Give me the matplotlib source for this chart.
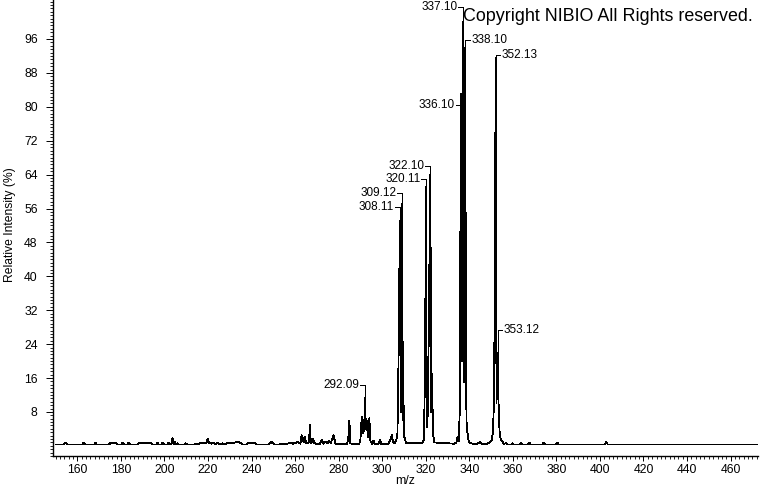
import numpy as np
import matplotlib.pyplot as plt
from matplotlib.ticker import MultipleLocator, FixedLocator


# profile trace (m/z, relative intensity %)
mz = [150.0, 153.8, 154.5, 155.2, 162.2, 162.8, 163.5, 167.8, 168.3, 168.9,
      174.5, 175.2, 177.6, 178.2, 180.2, 180.8, 181.4, 183.0, 183.6, 184.2,
      187.6, 188.3, 193.6, 194.3, 196.2, 196.8, 197.4, 198.6, 199.2, 199.8,
      201.4, 202.0, 202.6, 203.2, 203.7, 204.2, 204.7, 205.2, 206.0, 206.6,
      209.0, 209.6, 210.4, 213.0, 215.4, 217.6, 219.2, 219.8, 220.4, 221.6,
      222.4, 223.4, 224.4, 225.4, 226.6, 227.6, 229.2, 230.4, 232.6, 233.8,
      235.0, 236.0, 237.6, 238.4, 241.6, 242.4, 247.8, 249.2, 250.4, 252.6,
      253.8, 255.4, 257.0, 258.4, 259.0,
      261.4, 262.4, 263.0, 263.5, 263.8, 264.2, 264.6, 265.0, 265.8, 266.4,
      266.8, 267.2, 267.8, 268.3, 268.8, 270.0, 271.4, 272.2, 273.0, 274.0,
      274.8, 275.6, 276.4, 277.6, 278.6, 280.2, 283.8, 284.4, 284.9, 285.4,
      286.4, 289.4, 290.0, 290.6, 291.0, 291.3, 291.7, 292.09, 292.5, 292.9,
      293.4, 294.1, 294.6, 295.4, 296.0, 296.6, 298.4, 299.0, 299.6, 301.4,
      303.0, 303.8, 304.4, 305.0, 305.8, 306.4, 307.0, 307.5, 308.11, 308.5,
      308.9, 309.12, 309.5, 309.8, 310.2, 311.0, 318.4, 319.2, 319.7, 320.11,
      320.5, 321.0, 321.6, 322.10, 322.5, 322.9, 323.3, 324.0, 333.0, 334.0,
      334.6, 335.2, 335.7, 336.10, 336.5, 336.8, 337.10, 337.5, 337.8, 338.10,
      338.5, 338.8, 339.2, 339.7, 340.4, 343.6, 344.8, 345.8, 348.0, 349.6,
      350.4, 350.9, 351.4, 351.8, 352.13, 352.5, 352.8, 353.12, 353.5, 353.9,
      354.4, 355.2, 355.8, 357.0, 357.6, 359.2, 359.8, 360.4, 363.0, 363.6,
      364.2, 367.0, 367.6, 368.2, 373.6, 374.2, 374.8, 379.8, 380.4, 381.0,
      402.4, 403.0, 403.6, 473.0]
intensity = [0.3, 0.3, 0.8, 0.3, 0.3, 0.8, 0.3, 0.3, 0.8, 0.3,
             0.3, 0.7, 0.7, 0.3, 0.3, 0.8, 0.3, 0.3, 0.8, 0.3,
             0.3, 0.7, 0.7, 0.3, 0.3, 0.8, 0.3, 0.3, 0.8, 0.3,
             0.3, 0.8, 0.3, 0.4, 1.9, 0.4, 0.9, 0.3, 0.6, 0.3,
             0.3, 0.6, 0.3, 0.3, 0.4, 0.8, 0.7, 1.6, 0.7, 0.5,
             0.8, 0.3, 0.7, 0.3, 0.6, 0.3, 0.7, 0.6, 0.8, 1.0,
             0.6, 0.3, 0.3, 0.6, 0.6, 0.3, 0.3, 0.9, 0.3, 0.3,
             0.5, 0.3, 0.6, 0.7, 0.5,
             0.9, 0.5, 2.5, 1.0, 1.8, 0.9, 2.1, 0.7, 0.6, 0.9,
             5.0, 0.6, 0.8, 1.7, 0.7, 0.4, 0.4, 1.5, 0.5, 1.0,
             0.6, 1.2, 0.6, 2.5, 0.5, 0.4, 0.4, 1.5, 6.0, 0.6,
             0.4, 0.4, 1.5, 6.8, 3.0, 6.0, 3.5, 11.3, 4.0, 6.0,
             2.0, 6.5, 1.0, 0.5, 1.2, 0.4, 0.5, 1.5, 0.4, 0.4,
             0.5, 1.5, 2.5, 1.0, 0.6, 1.2, 3.0, 20.0, 53.0, 8.0,
             30.0, 57.0, 6.0, 10.0, 2.0, 0.7, 0.7, 1.5, 20.0, 61.0,
             4.5, 8.0, 40.0, 64.0, 8.0, 17.0, 3.0, 0.8, 0.5, 0.7,
             2.0, 1.0, 10.0, 83.0, 30.0, 20.0, 100.0, 15.0, 18.0, 94.0,
             15.0, 4.0, 3.0, 1.2, 0.6, 0.4, 0.9, 0.5, 0.5, 0.8,
             1.5, 3.5, 12.0, 48.0, 91.5, 10.0, 18.0, 22.0, 8.0, 3.5,
             1.6, 1.0, 0.4, 0.7, 0.3, 0.3, 0.6, 0.3, 0.3, 0.7,
             0.3, 0.3, 0.7, 0.3, 0.3, 0.8, 0.3, 0.3, 0.8, 0.3,
             0.3, 0.9, 0.3, 0.3]

# annotated peaks
peak_labels = ['292.09', '308.11', '309.12', '320.11', '322.10',
               '336.10', '337.10', '338.10', '352.13', '353.12']
peak_apex = [11.3, 53, 57, 61, 64, 83, 100, 94, 91.5, 22]
label_height = [14.3, 56.4, 59.6, 63.0, 66.0, 80.4, 103.5, 95.7, 92.2, 27.4]
label_right = [False, False, False, False, False, False, False, True, True, True]

fig = plt.figure(figsize=(7.6, 4.92), dpi=100)
ax = fig.add_axes([53 / 760, 36 / 492, 705 / 760, 456 / 492])

lw = 0.6
ax.plot(mz, intensity, color='black', lw=lw, antialiased=False)

font = 'Liberation Sans'
for lab, ap, ly, right in zip(peak_labels, peak_apex, label_height, label_right):
    x = float(lab)
    ax.plot([x, x], [ap, ly], color='black', lw=lw, antialiased=False)
    if right:
        ax.plot([x, x + 2.0], [ly, ly], color='black', lw=lw, antialiased=False)
        ax.text(x + 2.8, ly, lab, ha='left', va='center', fontsize=8.5, family=font)
    else:
        ax.plot([x - 2.4, x], [ly, ly], color='black', lw=lw, antialiased=False)
        ax.text(x - 2.6, ly, lab, ha='right', va='center', fontsize=8.5, family=font)

ax.set_xlim(148.8, 472.6)
ax.set_ylim(-2.4, 105.2)

ax.spines['top'].set_visible(False)
ax.spines['right'].set_visible(False)
for s in ['left', 'bottom']:
    ax.spines[s].set_linewidth(1.0)

ax.xaxis.set_major_locator(MultipleLocator(20))
ax.xaxis.set_minor_locator(MultipleLocator(2))
ax.yaxis.set_major_locator(FixedLocator(np.arange(8, 100, 8)))
ax.yaxis.set_minor_locator(MultipleLocator(0.8))

ax.tick_params(axis='x', which='major', length=3.6, width=0.7, pad=2.2, labelsize=8.8)
ax.tick_params(axis='x', which='minor', length=2.2, width=0.6)
ax.tick_params(axis='y', which='major', length=4.7, width=0.7, pad=6.3, labelsize=8.8)
ax.tick_params(axis='y', which='minor', length=2.5, width=0.6)
for t in ax.get_xticklabels() + ax.get_yticklabels():
    t.set_family(font)

ax.set_xlabel('m/z', fontsize=8.8, family=font)
ax.xaxis.set_label_coords(0.5, -0.042)
ax.set_ylabel('Relative Intensity (%)', fontsize=8.7, family=font)
ax.yaxis.set_label_coords(-0.0525, 0.507)

fig.text(463 / 760, 1 - 21 / 492, 'Copyright NIBIO All Rights reserved.',
         fontsize=12.9, family=font, ha='left', va='baseline')

fig.savefig('out.png', dpi=100)
